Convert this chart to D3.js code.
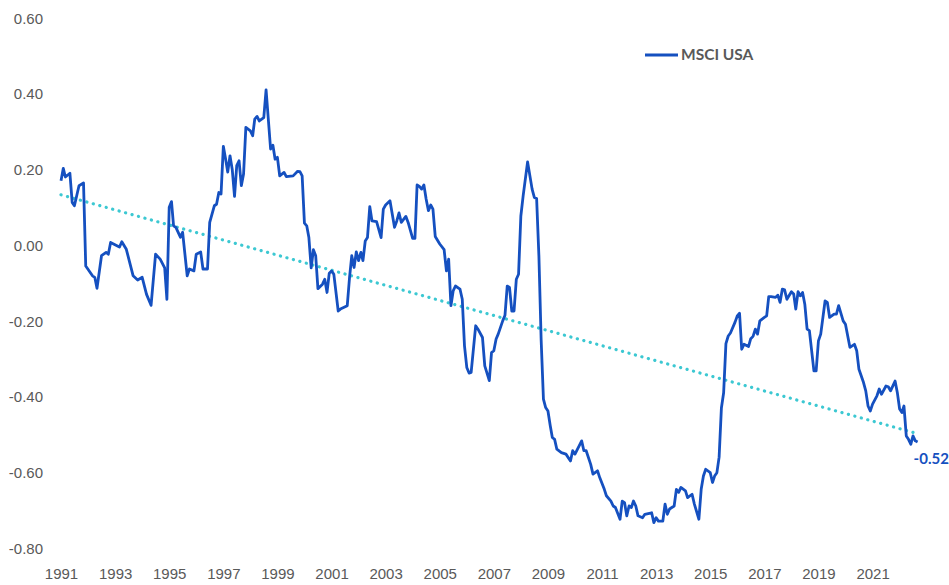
<!DOCTYPE html>
<html>
<head>
<meta charset="utf-8">
<script src="https://cdn.jsdelivr.net/npm/d3@7"></script>
<style>
  body { margin: 0; background: #fff; }
  svg { display: block; font-family: Lato, "Open Sans", sans-serif; }
  .tick text { fill: #595959; font-size: 15px; }
</style>
</head>
<body>
<div id="viz"></div>
<script>
const width = 949
const height = 585

// months counted from Jan 1991
const startDate = new Date(1991, 0, 1)
const monthIndex = [
  0,1,2,4,5,6,8,10,11,14,15,16,18,20,21,22,25,26,27,29,32,34,36,38,40,42,44,46,47,48,49,
  50,51,53,54,56,57,59,60,62,63,65,66,68,69,70,71,72,73,74,75,76,77,78,79,80,81,82,84,85,
  86,87,88,90,91,93,94,95,96,97,99,100,103,105,106,107,108,109,110,111,112,113,114,116,117,
  118,119,120,121,123,124,127,128,129,130,131,132,133,134,135,136,137,138,140,142,143,144,
  146,148,149,150,151,153,154,156,157,158,159,160,161,162,163,164,165,166,168,170,171,172,
  173,174,175,177,178,179,180,181,182,184,185,187,188,190,191,192,193,194,196,197,198,199,
  200,201,202,203,204,205,207,209,210,211,212,213,214,215,216,217,218,219,220,222,224,226,
  227,228,231,232,233,235,236,238,239,241,242,244,245,246,248,249,250,251,252,253,254,255,
  256,258,259,262,263,264,265,267,268,269,270,272,273,274,275,277,278,280,281,283,284,285,
  286,288,289,290,291,292,293,294,295,296,297,299,300,301,302,303,305,306,307,308,309,310,
  312,313,314,315,317,318,319,320,321,322,324,325,326,327,328,329,330,331,332,334,335,336,
  337,339,340,341,343,344,345,347,348,350,352,353,354,356,357,358,359,360,362,363,364,366,
  367,368,370,371,372,373,374,375,376,377,378,379,380
]
const msciUsa = [
  0.17,0.203,0.18,0.19,0.113,0.104,0.157,0.164,-0.055,-0.081,-0.085,-0.114,-0.028,-0.019,-0.024,0.007,-0.002,-0.005,0.009,-0.011,-0.081,-0.092,-0.085,-0.13,-0.159,-0.024,-0.037,-0.06,-0.143,0.10,0.115,
  0.051,0.047,0.021,0.034,-0.081,-0.063,-0.068,-0.024,-0.018,-0.063,-0.063,0.06,0.104,0.108,0.139,0.135,0.261,0.227,0.193,0.236,0.2,0.129,0.21,0.223,0.157,0.188,0.311,0.302,0.289,
  0.333,0.34,0.328,0.337,0.41,0.254,0.264,0.227,0.232,0.183,0.192,0.181,0.183,0.195,0.194,0.183,0.058,0.051,0.02,-0.06,-0.012,-0.028,-0.115,-0.103,-0.09,
  -0.125,-0.074,-0.068,-0.077,-0.174,-0.169,-0.16,-0.085,-0.028,-0.059,-0.018,-0.041,-0.019,-0.041,0.011,0.02,0.102,0.064,0.062,0.02,0.095,0.106,
  0.117,0.047,0.064,0.085,0.06,0.076,0.06,0.018,0.018,0.159,0.155,0.148,0.159,0.122,0.091,0.106,0.095,0.023,0.003,-0.012,-0.068,-0.037,
  -0.16,-0.121,-0.108,-0.116,-0.143,-0.266,-0.323,-0.338,-0.336,-0.213,-0.222,-0.244,-0.319,-0.358,-0.284,-0.279,-0.248,-0.235,-0.2,-0.185,-0.108,-0.112,
  -0.174,-0.174,-0.09,-0.077,0.077,0.13,0.22,0.148,0.126,0.123,-0.03,-0.25,-0.407,-0.429,-0.438,-0.477,-0.508,-0.513,-0.539,-0.548,-0.552,-0.57,
  -0.543,-0.552,-0.517,-0.543,-0.543,-0.579,-0.605,-0.596,-0.614,-0.645,-0.662,-0.676,-0.689,-0.693,-0.724,-0.676,-0.68,-0.715,-0.689,-0.693,-0.676,-0.689,
  -0.715,-0.72,-0.711,-0.707,-0.733,-0.72,-0.729,-0.729,-0.684,-0.711,-0.697,-0.689,-0.645,-0.653,-0.64,-0.649,-0.667,-0.658,-0.684,-0.724,-0.645,-0.61,
  -0.592,-0.601,-0.627,-0.61,-0.601,-0.56,-0.43,-0.39,-0.26,-0.24,-0.232,-0.204,-0.187,-0.18,-0.275,-0.262,-0.268,-0.247,-0.241,-0.222,-0.235,-0.2,
  -0.191,-0.187,-0.136,-0.136,-0.138,-0.132,-0.151,-0.116,-0.118,-0.143,-0.123,-0.129,-0.169,-0.123,-0.134,-0.125,-0.156,-0.222,-0.226,-0.332,-0.332,-0.253,
  -0.235,-0.147,-0.151,-0.191,-0.182,-0.182,-0.16,-0.2,-0.209,-0.27,-0.262,-0.279,-0.328,-0.363,-0.385,-0.425,-0.438,-0.42,-0.398,-0.38,-0.394,-0.372,
  -0.374,-0.385,-0.359,-0.389,-0.433,-0.442,-0.425,-0.504,-0.513,-0.526,-0.504,-0.517,-0.52
]
// dotted linear trend, start and end values
const trendValues = [0.133, -0.498]

const yTicks = [-0.8, -0.6, -0.4, -0.2, 0, 0.2, 0.4, 0.6]
const xTickYears = d3.range(1991, 2022, 2)
const seriesName = "MSCI USA"
const lastLabel = "-0.52"

const lineColor = "#1550C0"
const trendColor = "#3CC8D2"

const data = monthIndex.map((m, i) => ({date: d3.timeMonth.offset(startDate, m), value: msciUsa[i]}))
const endDate = data[data.length - 1].date

const svg = d3.select("#viz").append("svg")
  .attr("width", width)
  .attr("height", height)

const xScale = d3.scaleTime().domain([startDate, endDate]).range([61, 917.6])
const yScale = d3.scaleLinear().domain([-0.8, 0.6]).range([548, 18])

// Y axis
const yAxisG = svg.append("g")
  .attr("transform", "translate(43,0)")
  .call(d3.axisLeft(yScale)
    .tickValues(yTicks)
    .tickSize(0)
    .tickPadding(0)
    .tickFormat(d => d.toFixed(2)))
yAxisG.select(".domain").remove()
yAxisG.selectAll("text").attr("dy", "0.35em")

// X axis
const xAxisG = svg.append("g")
  .attr("transform", "translate(0,568)")
  .call(d3.axisBottom(xScale)
    .tickValues(xTickYears.map(y => new Date(y, 0, 1)))
    .tickSize(0)
    .tickPadding(0)
    .tickFormat(d3.timeFormat("%Y")))
xAxisG.select(".domain").remove()

// trend line
svg.append("line")
  .attr("x1", xScale(startDate))
  .attr("x2", xScale(endDate))
  .attr("y1", yScale(trendValues[0]))
  .attr("y2", yScale(trendValues[1]))
  .attr("stroke", trendColor)
  .attr("stroke-width", 3.2)
  .attr("stroke-linecap", "round")
  .attr("stroke-dasharray", "0.1 6.6")

// main series
const line = d3.line()
  .x(d => xScale(d.date))
  .y(d => yScale(d.value))

svg.append("path")
  .datum(data)
  .attr("fill", "none")
  .attr("stroke", lineColor)
  .attr("stroke-width", 2.8)
  .attr("stroke-linejoin", "round")
  .attr("d", line)

// end value label
svg.append("text")
  .attr("x", xScale(endDate) - 4)
  .attr("y", yScale(msciUsa[msciUsa.length - 1]) + 22)
  .attr("fill", lineColor)
  .style("font-size", "15px")
  .style("font-weight", "bold")
  .text(lastLabel)

// legend
const legend = svg.append("g").attr("transform", "translate(645,55)")
legend.append("line")
  .attr("x1", 0).attr("x2", 33)
  .attr("stroke", lineColor)
  .attr("stroke-width", 2.8)
legend.append("text")
  .attr("x", 36)
  .attr("dy", "0.35em")
  .attr("fill", "#595959")
  .style("font-size", "15.5px")
  .style("font-weight", "bold")
  .text(seriesName)
</script>
</body>
</html>
